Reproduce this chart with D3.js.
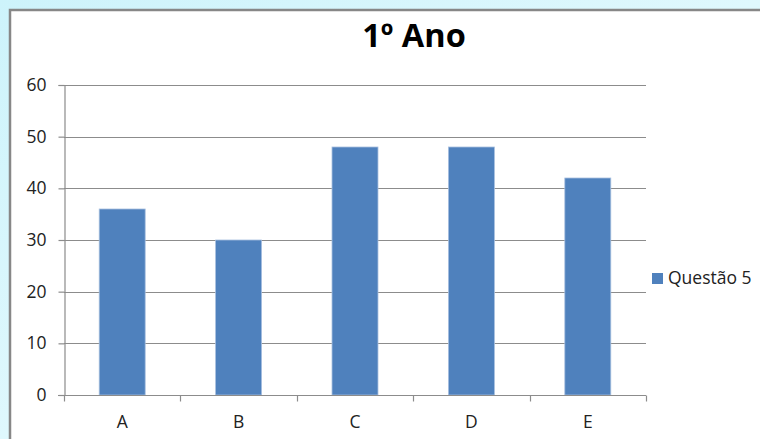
<!DOCTYPE html>
<html>
<head>
<meta charset="utf-8">
<script src="https://cdn.jsdelivr.net/npm/d3@7"></script>
<style>
  html, body { margin: 0; padding: 0; }
  body { width: 760px; height: 439px; overflow: hidden; }
  svg { display: block; }
</style>
</head>
<body>
<svg id="chart" width="760" height="439"></svg>
<script>
// Chart data
const title = "1º Ano";
const categories = ["A", "B", "C", "D", "E"];
const seriesName = "Questão 5";
const values = [36, 30, 48, 48, 42];
const yTicks = [0, 10, 20, 30, 40, 50, 60];

const svg = d3.select("#chart");
const W = 760, H = 439;

// Backdrop gradient behind the chart frame
const defs = svg.append("defs");
const bg = defs.append("linearGradient").attr("id", "bg")
  .attr("x1", "0").attr("y1", "0").attr("x2", "1").attr("y2", "1");
bg.append("stop").attr("offset", "0").attr("stop-color", "#cdf3fb");
bg.append("stop").attr("offset", "0.5").attr("stop-color", "#dff8fd");
bg.append("stop").attr("offset", "1").attr("stop-color", "#c9f1fa");
svg.append("rect").attr("width", W).attr("height", H).attr("fill", "url(#bg)");

// Chart frame (white, grey border running off the right and bottom edges)
svg.append("rect")
  .attr("x", 10).attr("y", 10).attr("width", W + 20).attr("height", H + 20)
  .attr("fill", "#ffffff").attr("stroke", "#878787").attr("stroke-width", 2.5);

const font = "'Open Sans', 'Noto Sans', sans-serif";
const labelSize = 17.5;

// Plot area
const x0 = 64, x1 = 646, yTop = 85, yBot = 395;

const x = d3.scaleBand().domain(categories).range([x0, x1])
  .paddingInner(0.605).paddingOuter(0.3025);
const xCat = d3.scaleBand().domain(categories).range([x0, x1]).padding(0);
const y = d3.scaleLinear().domain([0, 60]).range([yBot, yTop]);

// Horizontal gridlines
svg.append("g").selectAll("line").data(yTicks.filter(d => d > 0)).join("line")
  .attr("x1", x0).attr("x2", x1)
  .attr("y1", d => Math.round(y(d)) + 0.5).attr("y2", d => Math.round(y(d)) + 0.5)
  .attr("stroke", "#8c8c8c").attr("stroke-width", 1.2);

// Bars
svg.append("g").selectAll("rect").data(values).join("rect")
  .attr("x", (d, i) => x(categories[i]))
  .attr("y", d => y(d))
  .attr("width", x.bandwidth())
  .attr("height", d => y(0) - y(d))
  .attr("fill", "#4f81bd")
  .attr("stroke", "#a7bfdf").attr("stroke-width", 0.8);

// Y axis
const yAxis = svg.append("g")
  .attr("transform", `translate(${x0 + 0.5},0)`)
  .call(d3.axisLeft(y).tickValues(yTicks).tickSize(6).tickPadding(12));
yAxis.select(".domain").attr("stroke", "#8c8c8c").attr("stroke-width", 1.2);
yAxis.selectAll(".tick line").attr("stroke", "#8c8c8c").attr("stroke-width", 1.2);
yAxis.selectAll(".tick text")
  .attr("font-family", font).attr("font-size", labelSize).attr("fill", "#222");

// X axis with tick marks at category boundaries
const xAxisG = svg.append("g").attr("transform", `translate(0,${Math.round(yBot) + 0.5})`);
xAxisG.append("line").attr("x1", x0 - 6).attr("x2", x1)
  .attr("stroke", "#8c8c8c").attr("stroke-width", 1.2);
const bounds = categories.map(c => xCat(c)).concat([xCat(categories[categories.length - 1]) + xCat.bandwidth()]);
xAxisG.selectAll("line.tk").data(bounds).join("line").attr("class", "tk")
  .attr("x1", d => Math.round(d) + 0.5).attr("x2", d => Math.round(d) + 0.5)
  .attr("y1", 0).attr("y2", 6)
  .attr("stroke", "#8c8c8c").attr("stroke-width", 1.2);
xAxisG.selectAll("text").data(categories).join("text")
  .attr("x", d => xCat(d) + xCat.bandwidth() / 2)
  .attr("y", 32)
  .attr("text-anchor", "middle")
  .attr("font-family", font).attr("font-size", labelSize).attr("fill", "#222")
  .text(d => d);

// Title
svg.append("text")
  .attr("x", 414).attr("y", 47)
  .attr("text-anchor", "middle")
  .attr("font-family", font).attr("font-weight", "bold").attr("font-size", 32.5)
  .attr("fill", "#000")
  .text(title);

// Legend
const lg = svg.append("g").attr("transform", "translate(652,273)");
lg.append("rect").attr("width", 11).attr("height", 11).attr("fill", "#4f81bd");
lg.append("text").attr("x", 16).attr("y", 11)
  .attr("font-family", font).attr("font-size", labelSize).attr("fill", "#222")
  .text(seriesName);
</script>
</body>
</html>
